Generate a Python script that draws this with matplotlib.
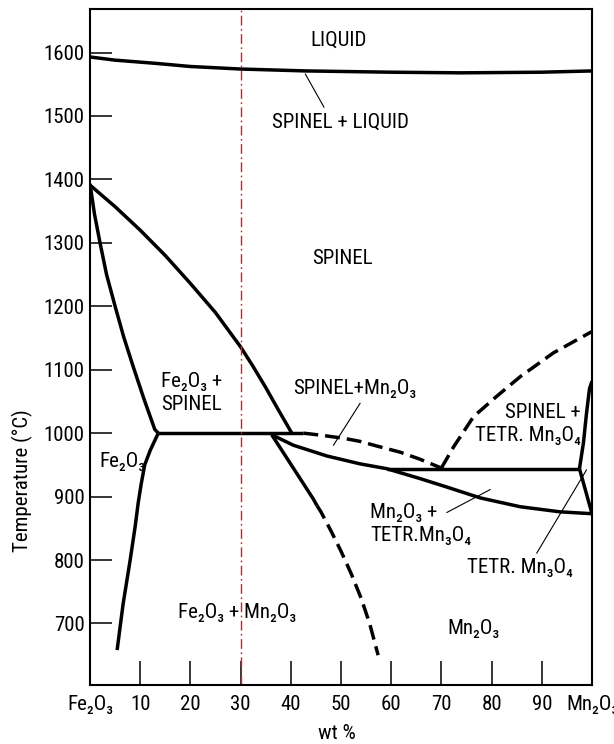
import matplotlib
matplotlib.use("Agg")
import matplotlib.pyplot as plt

# ---------------- data (wt % Mn2O3, temperature °C) ----------------
liquidus_x = [0, 5, 13, 20, 30, 43, 60, 74, 90, 100]
liquidus_y = [1593, 1588, 1583, 1578, 1574, 1571, 1569, 1568, 1569, 1571]

spinel_upper_x = [0, 5, 10, 15, 20, 25, 30, 32.5, 35, 37.5, 40.2]
spinel_upper_y = [1391, 1357, 1320, 1280, 1236, 1190, 1136, 1105, 1072, 1037, 1000]

fe_inner_x = [0, 0.9, 2.0, 3.3, 5.0, 6.7, 8.6, 10.7, 12.9, 13.6]
fe_inner_y = [1393, 1345, 1300, 1250, 1200, 1152, 1105, 1055, 1006, 1000]

fe_lower_x = [13.6, 12.0, 10.9, 10.2, 9.6, 9.0, 8.0, 6.6, 5.4]
fe_lower_y = [1000, 973, 950, 920, 890, 853, 800, 731, 658]

iso1000_x = [13.6, 42.5]
iso1000_y = [1000, 1000]

mn_solvus_dash_x = [42.5, 45.8, 50.5, 53.8, 57.0, 61.8, 65.7, 70.0]
mn_solvus_dash_y = [1000, 997, 992, 987, 980, 970, 959, 945]

lower_curve_x = [36.2, 40.5, 47.2, 53.8, 59.1, 65.7, 71.1, 77.7, 85.7, 93.6, 100]
lower_curve_y = [997.5, 981, 964, 951.6, 944, 928.5, 915, 898, 884, 876, 873]

iso944_x = [59.1, 97.5]
iso944_y = [944, 944]

fe_mn_solid_x = [36.2, 40.5, 44.5, 45.2]
fe_mn_solid_y = [997.5, 945, 896, 886]
fe_mn_dash_x = [45.2, 46.0, 48.0, 50.0, 52.0, 54.0, 55.7, 57.4]
fe_mn_dash_y = [886, 876, 846, 814, 779, 740, 700, 650]

tetr_dash_x = [70.0, 72.4, 76.4, 81.0, 85.7, 92.3, 99.6, 100]
tetr_dash_y = [945, 978, 1026, 1058, 1089, 1126.5, 1158.5, 1160]

tetr_steep_x = [97.5, 98.3, 98.9, 99.5, 100]
tetr_steep_y = [944, 985, 1031, 1070, 1082]

tetr_low_x = [97.5, 100]
tetr_low_y = [944, 873]

red_x = 30

x_ticks = [0, 10, 20, 30, 40, 50, 60, 70, 80, 90, 100]
x_ticklabels = ["Fe₂O₃", "10", "20", "30", "40", "50", "60", "70", "80", "90", "Mn₂O₃"]
y_ticks = [700, 800, 900, 1000, 1100, 1200, 1300, 1400, 1500, 1600]

labels = [
    ("LIQUID", 49.5, 1619, "center", "center"),
    ("SPINEL + LIQUID", 49.9, 1490, "center", "center"),
    ("SPINEL", 50.2, 1275, "center", "center"),
    ("Fe₂O₃ +\nSPINEL", 14.2, 1063, "left", "left"),
    ("SPINEL+Mn₂O₃", 52.8, 1070, "center", "center"),
    ("SPINEL +\nTETR. Mn₃O₄", 87.3, 1015, "center", "right"),
    ("Mn₂O₃ +\nTETR.Mn₃O₄", 55.8, 857, "left", "left"),
    ("TETR. Mn₃O₄", 85.7, 789, "center", "center"),
    ("Fe₂O₃", 6.5, 956, "center", "center"),
    ("Fe₂O₃ + Mn₂O₃", 29.4, 718, "center", "center"),
    ("Mn₂O₃", 76.4, 692, "center", "center"),
]

leaders = [
    ([42.9, 46.6], [1566, 1514]),
    ([53.8, 48.5], [1047, 981]),
    ([71.1, 79.7], [875, 911]),
    ([89.0, 98.9], [811, 942]),
]

# ---------------- figure ----------------
plt.rcParams['font.family'] = ['Liberation Sans Narrow', 'Roboto Condensed', 'DejaVu Sans']
FS = 15
fprops = dict(fontsize=FS, fontstretch='condensed')

fig = plt.figure(figsize=(6.14, 7.44), dpi=100)
ax = fig.add_axes([90/614, 1-685/744, 502/614, 675.6/744])
ax.set_xlim(0, 100)
ax.set_ylim(603, 1668)

LW = 2.5
dash = (0, (4.3, 2.0))
k = dict(color='black', lw=LW, solid_capstyle='butt', solid_joinstyle='round')
kd = dict(color='black', lw=LW, linestyle=dash, dash_capstyle='butt', dash_joinstyle='round')

ax.plot(liquidus_x, liquidus_y, **k)
ax.plot(spinel_upper_x, spinel_upper_y, **k)
ax.plot(fe_inner_x, fe_inner_y, **k)
ax.plot(fe_lower_x, fe_lower_y, **k)
ax.plot(iso1000_x, iso1000_y, **k)
ax.plot(mn_solvus_dash_x, mn_solvus_dash_y, **kd)
ax.plot(lower_curve_x, lower_curve_y, **k)
ax.plot(iso944_x, iso944_y, **k)
ax.plot(fe_mn_solid_x, fe_mn_solid_y, **k)
ax.plot(fe_mn_dash_x, fe_mn_dash_y, **kd)
ax.plot(tetr_dash_x, tetr_dash_y, **kd)
ax.plot(tetr_steep_x, tetr_steep_y, **k)
ax.plot(tetr_low_x, tetr_low_y, **k)

for lx, ly in leaders:
    ax.plot(lx, ly, color='black', lw=0.8)

ax.axvline(red_x, color='#e8141e', lw=1.0, linestyle=(0, (7, 2.5, 1.2, 2.5)))

for txt, tx, ty, ha, ma in labels:
    ax.text(tx, ty, txt, ha=ha, va='center', multialignment=ma,
            linespacing=1.25, **fprops)

ax.set_xticks(x_ticks)
ax.set_xticklabels(x_ticklabels, **fprops)
ax.set_yticks(y_ticks)
ax.set_yticklabels([str(v) for v in y_ticks], **fprops)
ax.tick_params(axis='x', direction='in', length=17, width=1.1, pad=7)
ax.tick_params(axis='y', direction='in', length=16, width=1.1, pad=4)

for s in ax.spines.values():
    s.set_linewidth(1.5)

ax.set_xlabel("wt %", **fprops)
ax.xaxis.set_label_coords(0.491, -0.057)
ax.set_ylabel("Temperature (°C)", **fprops)
ax.yaxis.set_label_coords(-0.1135, 0.303)

fig.savefig("out.png", dpi=100)
